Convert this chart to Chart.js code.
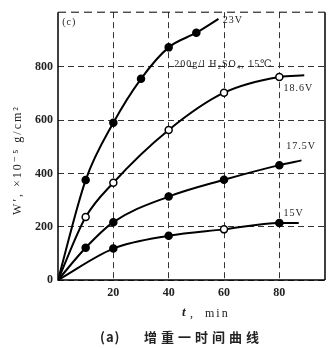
<!DOCTYPE html>
<html>
<head>
<meta charset="utf-8">
<script src="https://cdn.jsdelivr.net/npm/chart.js@4"></script>
<style>
  body { margin: 0; background: #fff; }
  #grafico { display: block; }
</style>
</head>
<body>
<canvas id="grafico" width="329" height="348"></canvas>
<script>
// datos (t en min, W' en 1e-5 g/cm2)
const t23 = [0, 10, 20, 30, 40, 50, 58];
const w23 = [0, 375, 590, 755, 873, 928, 980];
const t186 = [0, 10, 20, 40, 60, 80, 89];
const w186 = [0, 236, 365, 563, 703, 762, 768];
const t175 = [0, 10, 20, 40, 60, 80, 88];
const w175 = [0, 121, 217, 313, 376, 431, 449];
const t15 = [0, 20, 40, 60, 80, 87];
const w15 = [0, 118, 166, 190, 214, 214];

const xTicks = [20, 40, 60, 80];
const yTicks = [0, 200, 400, 600, 800];

// etiquetas sobre el grafico: [texto, t, W']
const etiquetas = [
    ["(c)", 1.5, 965],
    ["23V", 59.5, 975],
    ["200g/l H\u2082SO\u2084, 15\u2103", 42, 808],
    ["18.6V", 81.5, 718],
    ["17.5V", 82.5, 500],
    ["15V", 81.5, 250]
];

function serie(ts, ws, abiertos) {
    const pts = ts.map((t, i) => ({ x: t, y: ws[i] }));
    const n = pts.length;
    return {
        data: pts,
        borderColor: "#000",
        borderWidth: 2,
        cubicInterpolationMode: "monotone",
        pointRadius: pts.map((p, i) => (i === 0 || i === n - 1) ? 0 : 3.5),
        pointBackgroundColor: pts.map((p, i) => abiertos(i) ? "#fff" : "#000"),
        pointBorderColor: "#000",
        pointBorderWidth: 1.5
    };
}

const serif = "'Liberation Serif', 'DejaVu Serif', serif";

const decoracion = {
    id: "decoracion",
    afterDraw(chart) {
        const ctx = chart.ctx;
        const a = chart.chartArea;
        const xs = chart.scales.x, ys = chart.scales.y;
        ctx.save();
        // marco: izquierda y abajo solidos, arriba discontinuo, derecha solido
        ctx.strokeStyle = "#000";
        ctx.lineWidth = 1.5;
        ctx.beginPath();
        ctx.moveTo(a.left, a.top); ctx.lineTo(a.left, a.bottom); ctx.lineTo(a.right, a.bottom);
        ctx.moveTo(a.right, a.top); ctx.lineTo(a.right, a.bottom);
        ctx.stroke();
        ctx.setLineDash([8, 5]);
        ctx.lineWidth = 1;
        ctx.beginPath();
        ctx.moveTo(a.left, a.top); ctx.lineTo(a.right, a.top);
        ctx.stroke();
        ctx.setLineDash([]);

        ctx.fillStyle = "#222";
        ctx.textBaseline = "middle";
        ctx.textAlign = "left";
        ctx.letterSpacing = "1px";
        etiquetas.forEach(([txt, t, w]) => {
            ctx.font = "10px " + serif;
            ctx.fillText(txt, xs.getPixelForValue(t), ys.getPixelForValue(w));
        });

        // titulo eje x
        ctx.font = "italic bold 13px " + serif;
        ctx.fillText("t", 182, 313);
        ctx.font = "12px " + serif;
        ctx.letterSpacing = "2px";
        ctx.fillText(",  min", 190, 314);

        // titulo eje y
        ctx.textAlign = "center";
        ctx.save();
        ctx.translate(18, 160);
        ctx.rotate(-Math.PI / 2);
        ctx.font = "12px " + serif;
        ctx.letterSpacing = "2px";
        ctx.fillText("W\u2032, \u00d710\u207b\u2075 g/cm\u00b2", 0, 0);
        ctx.restore();

        // pie de figura
        ctx.textAlign = "left";
        ctx.font = "bold 13px 'Noto Sans CJK SC', sans-serif";
        ctx.letterSpacing = "1px";
        ctx.fillText("(a)", 100, 337);
        ctx.letterSpacing = "4px";
        ctx.fillText("增重一时间曲线", 144, 337);
        ctx.restore();
    }
};

new Chart(document.getElementById("grafico").getContext("2d"), {
    type: "line",
    data: {
        datasets: [
            serie(t23, w23, () => false),
            serie(t186, w186, () => true),
            serie(t175, w175, () => false),
            serie(t15, w15, i => i === 3)
        ]
    },
    options: {
        responsive: false,
        animation: false,
        layout: { padding: { top: 7, right: 4, left: 0, bottom: 0 } },
        plugins: { legend: { display: false }, tooltip: { enabled: false } },
        scales: {
            x: {
                type: "linear",
                min: 0,
                max: 96.5,
                afterFit: s => { s.height = 68; },
                afterBuildTicks: s => { s.ticks = xTicks.map(v => ({ value: v })); },
                grid: { color: "#333", lineWidth: 1, drawTicks: false },
                border: { display: false, dash: [6, 4] },
                ticks: { color: "#222", padding: 6, font: { family: serif, size: 12, weight: "bold" } }
            },
            y: {
                min: 0,
                max: 1005,
                afterFit: s => { s.width = 58; },
                afterBuildTicks: s => { s.ticks = yTicks.map(v => ({ value: v })); },
                grid: { color: "#333", lineWidth: 1, drawTicks: false },
                border: { display: false, dash: [6, 4] },
                ticks: { color: "#222", padding: 5, font: { family: serif, size: 12, weight: "bold" } }
            }
        }
    },
    plugins: [decoracion]
});
</script>
</body>
</html>
